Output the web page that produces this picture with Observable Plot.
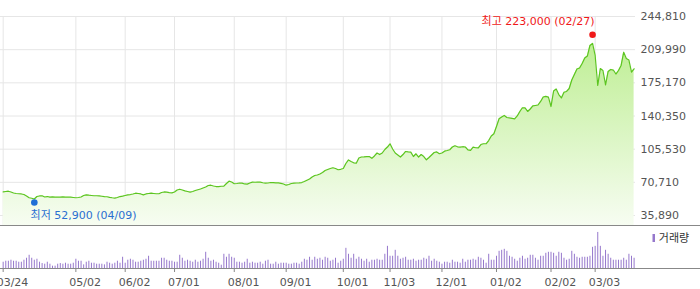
<!DOCTYPE html>
<html>
<head>
<meta charset="utf-8">
<script src="https://cdn.jsdelivr.net/npm/d3@7"></script>
<script src="https://cdn.jsdelivr.net/npm/@observablehq/plot@0.6"></script>
<style>
  html, body { margin: 0; padding: 0; background: #fff; }
  #chart { width: 700px; height: 289px; overflow: hidden; }
  #chart svg { display: block; }
</style>
</head>
<body>
<div id="chart"></div>
<script>
// Daily closing prices (KRW), 2025-03-24 .. 2026-03-23, one per trading day
const closePrices = [
  60600,61100,61400,60600,59500,59000,58700,58500,57900,56400,
  54500,54000,53200,55800,56400,56600,55300,55800,55100,55500,
  55100,55300,55100,55500,55100,55300,55100,54800,54500,54800,
  55300,56900,57600,57200,56900,56600,56600,56400,56100,55800,
  55600,55000,54500,54100,54800,55800,56200,56900,57600,57900,
  58500,59300,59000,58500,57600,58500,59000,59300,59000,58700,
  58700,60000,60600,60400,60000,59700,60600,62700,63500,62700,
  61800,61100,60400,61100,62100,62900,63700,64800,65800,67400,
  67700,66900,66300,66300,66600,66700,69500,71900,71100,69200,
  69500,70000,69800,69000,68800,70000,70900,70800,70900,70900,
  70300,69800,70000,70500,70500,70200,70200,69700,69000,67700,
  68400,69500,69800,70000,70200,70500,71600,72900,74200,76300,
  77900,78400,79500,81000,83100,84200,85200,86000,85200,83900,
  84400,85200,90500,94200,92600,91200,90800,96300,97300,97500,
  97800,97800,95900,98400,101500,99900,101500,105200,107800,111200,
  105700,101500,99400,97300,99900,103100,102600,102400,97800,100700,
  97300,99900,97800,94400,96800,99400,102000,102600,100700,101500,
  103400,104100,104900,107800,109100,108000,107600,108100,107800,104700,
  104300,107600,107000,106800,110400,111200,111200,114600,119400,121700,
  129300,137400,139300,140900,138800,138300,137900,137400,140400,145100,
  149000,148800,145100,147700,150900,151400,151900,155600,160300,161000,
  160100,150300,166600,168700,162900,159300,165300,166100,169200,178100,
  183900,189700,190700,195500,201200,203300,214400,216500,203900,172400,
  190200,188100,173100,187100,189200,188600,184400,188100,193400,207300,
  200700,199100,186500,189900
];

// Daily trading volume (thousand shares)
const volumes = [
  760,880,880,1000,880,880,760,760,1000,1240,
  1600,1240,1000,1120,760,600,520,760,520,280,
  280,520,600,520,640,520,520,640,1120,880,
  880,440,760,880,640,640,520,520,520,440,
  760,640,520,640,880,640,1360,640,1000,1120,
  1000,760,760,880,1000,1120,1480,880,880,880,
  880,1240,1240,1000,880,880,760,760,1600,1240,
  880,1000,880,760,1000,760,880,1120,1960,1240,
  880,1000,760,640,400,1720,1360,1720,1360,1240,
  760,760,640,760,1120,640,760,640,640,760,
  520,880,1000,520,520,760,520,640,640,640,
  520,520,640,640,520,760,1120,1000,1360,1000,
  1360,1120,1240,1000,1360,1240,880,1000,1240,640,
  880,1120,2440,1720,1240,1720,1120,1360,1120,880,
  1120,760,1000,1000,1120,1000,1000,1720,2680,1480,
  1480,2200,1480,1120,1240,1360,1000,1000,1120,880,
  1000,1000,1240,1120,1480,880,1120,880,760,520,
  760,760,640,1000,760,760,640,1120,760,1000,
  1000,1120,1000,1360,1240,1000,640,1720,1000,1000,
  1480,2080,2200,2320,2080,1480,1360,1120,880,1240,
  1480,1120,1240,1600,1600,1240,1000,1480,1480,1840,
  1960,1960,1840,1480,1960,1840,1240,1000,1120,2080,
  1720,1360,1240,1360,1360,1360,1480,2560,2680,4360,
  2680,1480,2200,1720,1240,1000,1000,1000,1000,1240,
  1000,1720,1480,1240
];

// x-axis ticks: trading-day index and label
const tickIndex  = [0, 28, 47, 66, 89, 109, 131, 149, 169, 190, 211, 228];
const tickLabels = ["03/24","05/02","06/02","07/01","08/01","09/01","10/01","11/03","12/01","01/02","02/02","03/03"];

// y-axis ticks (price)
const priceTicks = [35890, 70710, 105530, 140350, 175170, 209990, 244810];
const priceDomain = [25392, 244810];
const volumeDomain = [0, 5080];

// extremes
const highPoint = {i: 227, v: 223000, label: "최고 223,000 (02/27)"};
const lowPoint  = {i: 12,  v: 52900,  label: "최저 52,900 (04/09)"};
const volumeLabel = "거래량";

const data = closePrices.map((c, i) => ({i, close: c, vol: volumes[i]}));
const n = closePrices.length;
const xRange = [2.67, 633.6];
const FONT = "'DejaVu Sans', 'Noto Sans CJK KR', sans-serif";
const GREEN_LINE = "#5cc520";
const PURPLE = "#9678cc";
const labelOf = new Map(tickIndex.map((t, k) => [t, tickLabels[k]]));
const ns = "http://www.w3.org/2000/svg";

function gradientDefs(index, scales, values, dims) {
  const defs = document.createElementNS(ns, "defs");
  const g = document.createElementNS(ns, "linearGradient");
  g.setAttribute("id", "areaGrad");
  g.setAttribute("gradientUnits", "userSpaceOnUse");
  g.setAttribute("x1", 0); g.setAttribute("x2", 0);
  g.setAttribute("y1", dims.marginTop);
  g.setAttribute("y2", dims.height - dims.marginBottom);
  [[0, "#b6ec86"], [1, "#f7fdf2"]].forEach(([o, c]) => {
    const s = document.createElementNS(ns, "stop");
    s.setAttribute("offset", o); s.setAttribute("stop-color", c);
    g.appendChild(s);
  });
  defs.appendChild(g);
  return defs;
}

function fullWidthLine(yValue) {
  return (index, scales, values, dims) => {
    const y = Math.round(scales.y(yValue)) + 0.5;
    const l = document.createElementNS(ns, "line");
    l.setAttribute("x1", 0); l.setAttribute("x2", dims.width);
    l.setAttribute("y1", y); l.setAttribute("y2", y);
    l.setAttribute("stroke", "#888");
    l.setAttribute("stroke-width", 1);
    return l;
  };
}

function legendSwatch(index, scales, values, dims) {
  const r = document.createElementNS(ns, "rect");
  r.setAttribute("x", dims.width - dims.marginRight + 17.5);
  r.setAttribute("y", 8);
  r.setAttribute("width", 2.5);
  r.setAttribute("height", 8);
  r.setAttribute("fill", PURPLE);
  return r;
}

const pricePlot = Plot.plot({
  width: 700, height: 226,
  marginTop: 16, marginBottom: 1, marginLeft: 0, marginRight: 65,
  style: {fontFamily: FONT, fontSize: "11px", background: "transparent", overflow: "visible"},
  x: {domain: [0, n - 1], range: xRange, axis: null},
  y: {domain: priceDomain, axis: null},
  marks: [
    gradientDefs,
    Plot.gridX(tickIndex, {stroke: "#e6e6e6", strokeOpacity: 1}),
    Plot.gridY(priceTicks, {stroke: "#e6e6e6", strokeOpacity: 1}),
    Plot.areaY(data, {x: "i", y1: priceDomain[0], y2: "close", fill: "url(#areaGrad)"}),
    Plot.lineY(data, {x: "i", y: "close", stroke: GREEN_LINE, strokeWidth: 1.2}),
    Plot.axisY(priceTicks, {anchor: "right", tickSize: 0, tickPadding: 5, label: null,
      tickFormat: d3.format(","), fill: "#555", fontSize: 11}),
    Plot.dot([highPoint], {x: "i", y: "v", r: 3.3, fill: "#f01818", dy: -2.5}),
    Plot.text([highPoint], {x: "i", y: "v", text: "label", fill: "#f01818",
      textAnchor: "end", dx: 2, dy: -16, fontSize: 11}),
    Plot.dot([lowPoint], {x: "i", y: "v", r: 3.3, fill: "#1f6fd6", dy: 3.2}),
    Plot.text([lowPoint], {x: "i", y: "v", text: "label", fill: "#2a6fd1",
      textAnchor: "start", dx: -3.8, dy: 16.2, fontSize: 11}),
    fullWidthLine(priceDomain[0])
  ]
});

const volumePlot = Plot.plot({
  width: 700, height: 63,
  marginTop: 0, marginBottom: 21, marginLeft: 0, marginRight: 65,
  style: {fontFamily: FONT, fontSize: "11px", background: "transparent"},
  x: {domain: [0, n - 1], range: xRange, axis: null},
  y: {domain: volumeDomain, axis: null},
  marks: [
    Plot.ruleX(data, {x: "i", y1: 0, y2: "vol", stroke: PURPLE, strokeWidth: 1}),
    fullWidthLine(0),
    Plot.axisX(tickIndex, {tickSize: 4, tickFormat: () => "", label: null, stroke: "#888"}),
    Plot.text(tickIndex, {x: d => d, text: d => labelOf.get(d), frameAnchor: "bottom",
      textAnchor: "start", lineAnchor: "middle", dx: -6.5, dy: 13.7, fill: "#555", fontSize: 11}),
    legendSwatch,
    Plot.text([volumeLabel], {frameAnchor: "top-right", text: d => d, textAnchor: "start",
      lineAnchor: "middle", dx: 23.3, dy: 11.5, fill: "#333", fontSize: 11})
  ]
});

const chart = document.getElementById("chart");
chart.appendChild(pricePlot);
chart.appendChild(volumePlot);
</script>
</body>
</html>
